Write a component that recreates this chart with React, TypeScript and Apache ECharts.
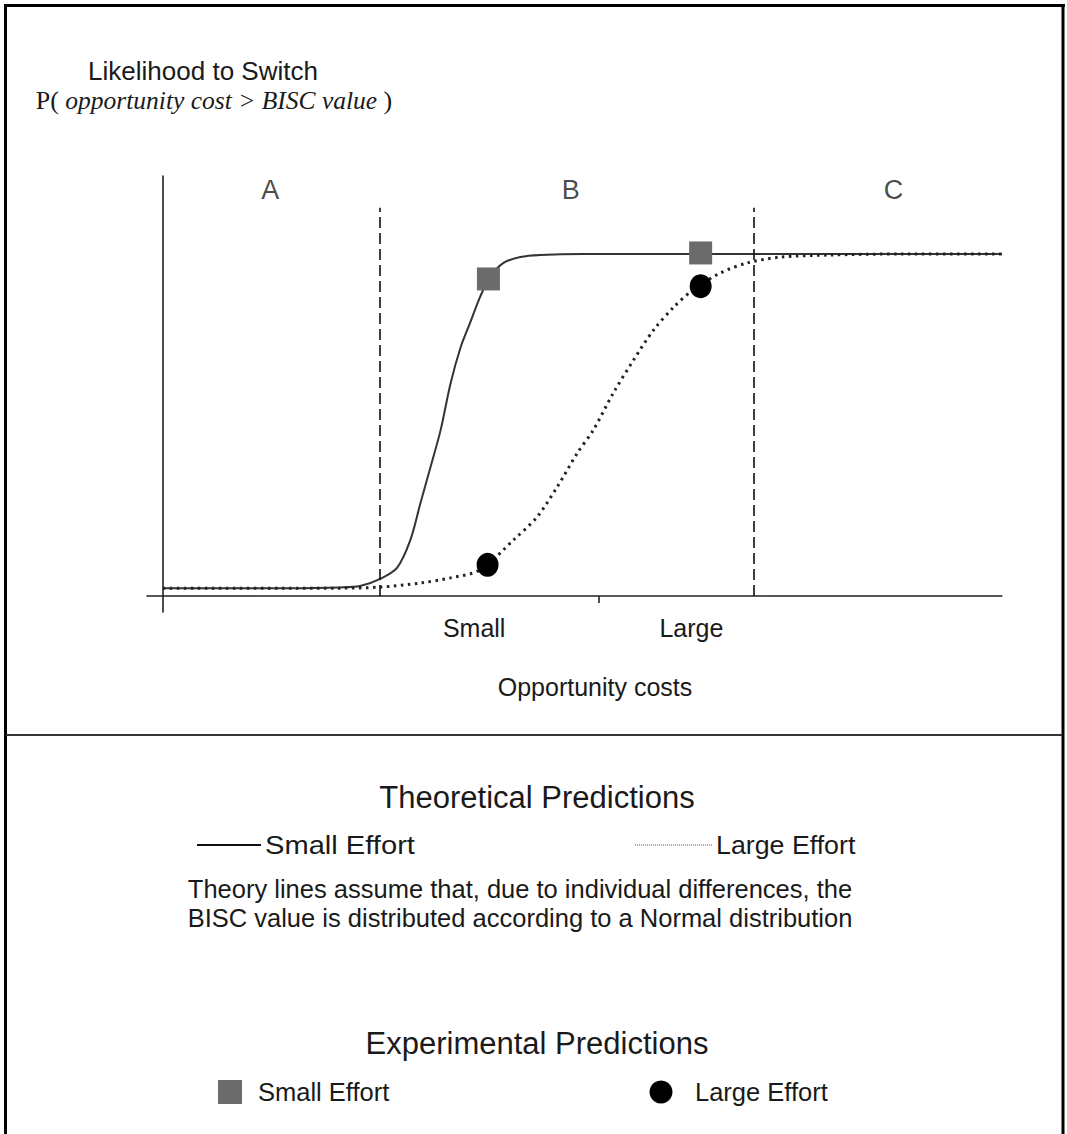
import React, { useEffect, useRef } from "react";
import * as echarts from "echarts";

// ---- data ----
// x: opportunity cost (0..100 along the axis), y: likelihood to switch (0..1)
const smallEffortTheory: [number, number][] = [
  [0, 0.023], [15, 0.023], [21.1, 0.025], [23.5, 0.029], [25.9, 0.05], [27.9, 0.082],
  [29.5, 0.164], [30.7, 0.272], [31.9, 0.377], [33.1, 0.485], [34.3, 0.623],
  [35.5, 0.728], [36.6, 0.798], [37.8, 0.874], [39.0, 0.933], [40.6, 0.974],
  [42.6, 0.991], [45.0, 0.997], [50, 1.0], [100, 1.0],
];
const largeEffortTheory: [number, number][] = [
  [0, 0.023], [21.1, 0.023], [25.9, 0.026], [30.7, 0.038], [34.3, 0.053], [37.8, 0.076],
  [41.8, 0.164], [44.6, 0.231], [47.0, 0.319], [49.4, 0.418], [51.3, 0.485],
  [53.7, 0.594], [56.1, 0.69], [58.5, 0.778], [60.9, 0.845], [63.2, 0.895],
  [66.5, 0.945], [69.7, 0.974], [73.6, 0.991], [79.6, 0.997], [88, 1.0], [100, 1.0],
];
const smallEffortObserved: [number, number][] = [[38.8, 0.927], [64.1, 1.003]];
const largeEffortObserved: [number, number][] = [[38.7, 0.091], [64.1, 0.906]];

const zoneBoundaries = [25.9, 70.4];
const zoneBoundaryTop = 1.135;
const zoneNames = ["A", "B", "C"];
const zoneNameX = [12.8, 48.6, 87.1];
const zoneNameY = 1.187;

const costLabels = ["Small", "Large"];
const costLabelValues = [37.1, 63.0];
const costTickValues = [52];

const SANS = "'Liberation Sans', Arial, sans-serif";
const SERIF = "'Liberation Serif', 'Times New Roman', serif";

export default function App() {
  const ref = useRef<HTMLDivElement>(null);
  useEffect(() => {
    if (!ref.current) return;
    const chart = echarts.init(ref.current, null, { renderer: "svg" });
    const txt = (text: string, x: number, y: number, size: number, align = "center", scaleX = 1) => ({
      type: "text",
      x,
      y,
      scaleX,
      silent: true,
      style: {
        text,
        fontSize: size,
        fontFamily: SANS,
        fill: "#1a1a1a",
        textAlign: align,
        textVerticalAlign: "middle",
        align,
        verticalAlign: "middle",
      },
    });
    chart.setOption({
      animation: false,
      backgroundColor: "#ffffff",
      grid: { left: 147, right: 65.2, top: 176, bottom: 522 },
      xAxis: {
        type: "value",
        min: -1.9,
        max: 100,
        axisLine: { show: true, onZero: true, lineStyle: { color: "#222", width: 1.6 } },
        axisTick: { show: true, customValues: costTickValues, length: 7, lineStyle: { color: "#222", width: 1.6 } },
        axisLabel: {
          show: true,
          customValues: costLabelValues,
          formatter: (v: number) => {
            const i = costLabelValues.findIndex((c) => Math.abs(c - v) < 1e-6);
            return i >= 0 ? costLabels[i] : "";
          },
          margin: 3,
          fontSize: 25,
          fontFamily: SANS,
          color: "#1a1a1a",
        },
        splitLine: { show: false },
      },
      yAxis: {
        type: "value",
        min: -0.0468,
        max: 1.228,
        axisLine: { show: true, onZero: true, lineStyle: { color: "#222", width: 1.6 } },
        axisTick: { show: false },
        axisLabel: { show: false },
        splitLine: { show: false },
      },
      series: [
        {
          name: "Small Effort (theory)",
          type: "line",
          data: smallEffortTheory,
          showSymbol: false,
          smooth: 0.3,
          lineStyle: { color: "#333", width: 2 },
          z: 3,
          markLine: {
            silent: true,
            symbol: "none",
            label: { show: false },
            lineStyle: { color: "#111", width: 1.6, type: [11, 5] },
            data: zoneBoundaries.map((x) => [
              { coord: [x, 0] },
              { coord: [x, zoneBoundaryTop] },
            ]),
          },
        },
        {
          name: "Large Effort (theory)",
          type: "line",
          data: largeEffortTheory,
          showSymbol: false,
          smooth: 0.3,
          lineStyle: { color: "#222", width: 3, type: [2.5, 4.5] },
          z: 3,
        },
        {
          name: "Small Effort (observed)",
          type: "scatter",
          data: smallEffortObserved,
          symbol: "rect",
          symbolSize: 23,
          itemStyle: { color: "#6b6b6b", opacity: 1 },
          z: 5,
        },
        {
          name: "Large Effort (observed)",
          type: "scatter",
          data: largeEffortObserved,
          symbol: "circle",
          symbolSize: [22, 24],
          itemStyle: { color: "#000", opacity: 1 },
          z: 5,
        },
        {
          name: "Zones",
          type: "scatter",
          data: zoneNames.map((n, i) => ({ name: n, value: [zoneNameX[i], zoneNameY] })),
          symbolSize: 0,
          silent: true,
          label: {
            show: true,
            position: "inside",
            formatter: "{b}",
            fontSize: 27,
            fontFamily: SANS,
            color: "#1a1a1a",
          },
        },
      ],
      graphic: [
        // frame
        { type: "line", silent: true, shape: { x1: 4, y1: 5.5, x2: 1065, y2: 5.5 }, style: { stroke: "#000", lineWidth: 3 } },
        { type: "line", silent: true, shape: { x1: 5.5, y1: 4, x2: 5.5, y2: 1134 }, style: { stroke: "#000", lineWidth: 3 } },
        { type: "line", silent: true, shape: { x1: 1063, y1: 4, x2: 1063, y2: 1134 }, style: { stroke: "#000", lineWidth: 3 } },
        { type: "line", silent: true, shape: { x1: 6, y1: 735, x2: 1062, y2: 735 }, style: { stroke: "#333", lineWidth: 2 } },
        // y axis title
        txt("Likelihood to Switch", 203, 71, 26),
        {
          type: "text",
          x: 214,
          y: 100,
          silent: true,
          style: {
            text: "{r|P(} {i|opportunity cost > BISC value} {r|)}",
            textAlign: "center",
            textVerticalAlign: "middle",
            align: "center",
            verticalAlign: "middle",
            fill: "#1a1a1a",
            rich: {
              r: { fontFamily: SERIF, fontSize: 26, fill: "#1a1a1a" },
              i: { fontFamily: SERIF, fontSize: 25.5, fontStyle: "italic", fill: "#1a1a1a" },
            },
            fontFamily: SERIF,
            fontSize: 25.5,
          },
        },
        // x axis title
        txt("Opportunity costs", 595, 687, 25),
        // theoretical legend
        txt("Theoretical Predictions", 537, 797, 31),
        { type: "line", silent: true, shape: { x1: 197, y1: 845, x2: 261, y2: 845 }, style: { stroke: "#111", lineWidth: 2 } },
        txt("Small Effort", 265, 845, 26, "left", 1.12),
        { type: "line", silent: true, shape: { x1: 635, y1: 845, x2: 712, y2: 845 }, style: { stroke: "#555", lineWidth: 1, lineDash: [1, 1] } },
        txt("Large Effort", 716, 845, 26, "left", 1.03),
        txt("Theory lines assume that, due to individual differences, the", 520, 889, 25.5),
        txt("BISC value is distributed according to a Normal distribution", 520, 918, 25.5),
        // experimental legend
        txt("Experimental Predictions", 537, 1043, 31),
        { type: "rect", silent: true, shape: { x: 218, y: 1080, width: 24, height: 24 }, style: { fill: "#6b6b6b" } },
        txt("Small Effort", 258, 1092, 25.5, "left"),
        { type: "circle", silent: true, shape: { cx: 661, cy: 1092, r: 11.5 }, style: { fill: "#000" } },
        txt("Large Effort", 695, 1092, 25.5, "left"),
      ],
    });
    return () => chart.dispose();
  }, []);
  return (
    <div
      ref={ref}
      style={{ position: "absolute", left: 0, top: 0, width: 1067, height: 1134 }}
    />
  );
}
